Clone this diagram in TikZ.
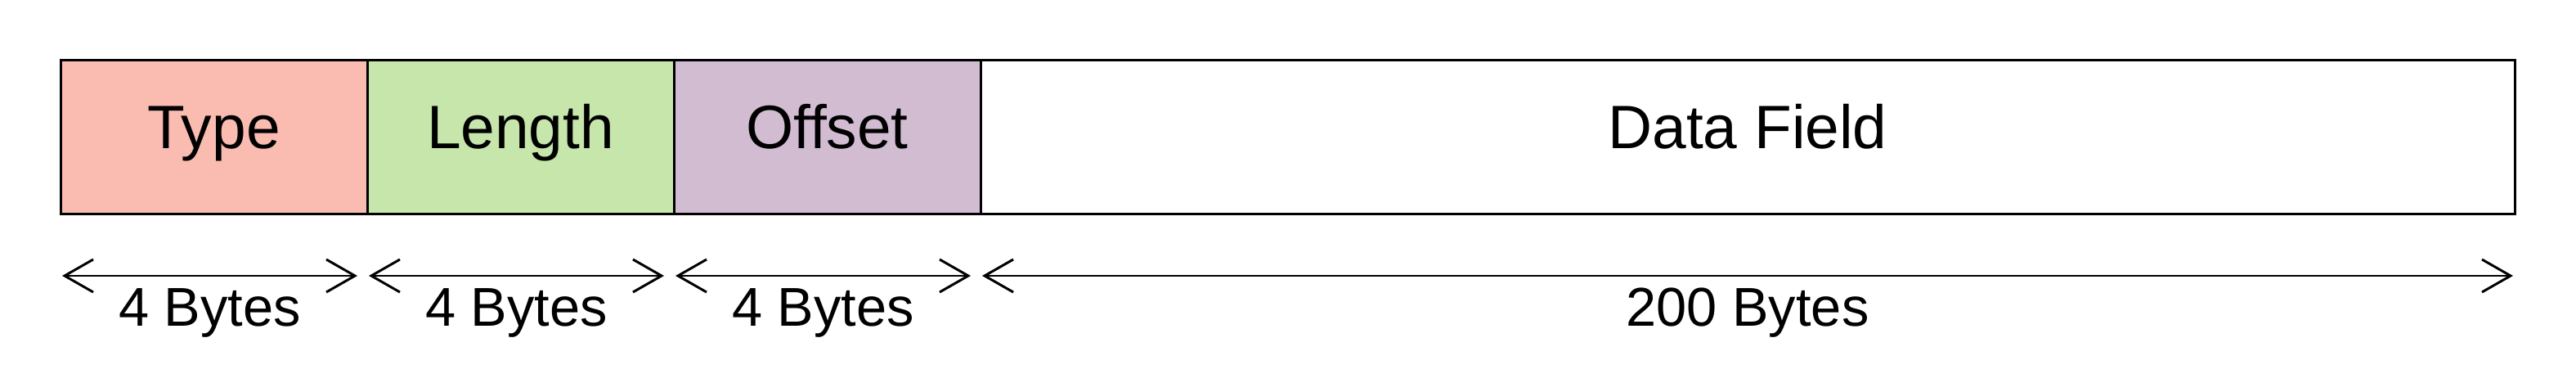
\documentclass[tikz,border=0pt]{standalone}
\usepackage{fontspec}
\setmainfont{Liberation Sans}
\usetikzlibrary{arrows.meta}
\definecolor{typecol}{RGB}{250,187,177}
\definecolor{lencol}{RGB}{198,230,171}
\definecolor{offcol}{RGB}{209,188,210}
\tikzset{
  field/.style={draw=black, line width=0.03cm, outer sep=0pt, inner sep=0pt,
    minimum height=1.88cm, text height=0.53cm, text depth=0.25cm,
    font=\fontsize{21.3pt}{25pt}\selectfont},
  span/.style={line width=0.024cm, {Straight Barb[length=0.35cm,width=0.40cm,line width=0.03cm]}-{Straight Barb[length=0.35cm,width=0.40cm,line width=0.03cm]}},
  sizelabel/.style={anchor=base, inner sep=0pt, font=\fontsize{19pt}{22pt}\selectfont}
}
\begin{document}
\begin{tikzpicture}
\useasboundingbox (0,0) rectangle (31.5,4.56);
\node[field, fill=typecol, minimum width=3.75cm, anchor=south west] (type) at (0.74,1.94) {Type};
\node[field, fill=lencol, minimum width=3.75cm, anchor=south west] (len) at (type.south east) {Length};
\node[field, fill=offcol, minimum width=3.75cm, anchor=south west] (off) at (len.south east) {Offset};
\node[field, fill=white, minimum width=18.76cm, anchor=south west] (data) at (off.south east) {Data Field};
\coordinate (a1s) at (0.76,1.19);  \coordinate (a1e) at (4.37,1.19);
\coordinate (a2s) at (4.51,1.19);  \coordinate (a2e) at (8.12,1.19);
\coordinate (a3s) at (8.26,1.19);  \coordinate (a3e) at (11.87,1.19);
\coordinate (a4s) at (12.01,1.19); \coordinate (a4e) at (30.73,1.19);
\draw[span] (a1s) -- (a1e);
\draw[span] (a2s) -- (a2e);
\draw[span] (a3s) -- (a3e);
\draw[span] (a4s) -- (a4e);
\node[sizelabel] (l1) at (2.565,0.58) {4 Bytes};
\node[sizelabel] (l2) at (6.315,0.58) {4 Bytes};
\node[sizelabel] (l3) at (10.065,0.58) {4 Bytes};
\node[sizelabel] (l4) at (21.37,0.58) {200 Bytes};
\end{tikzpicture}
\end{document}
